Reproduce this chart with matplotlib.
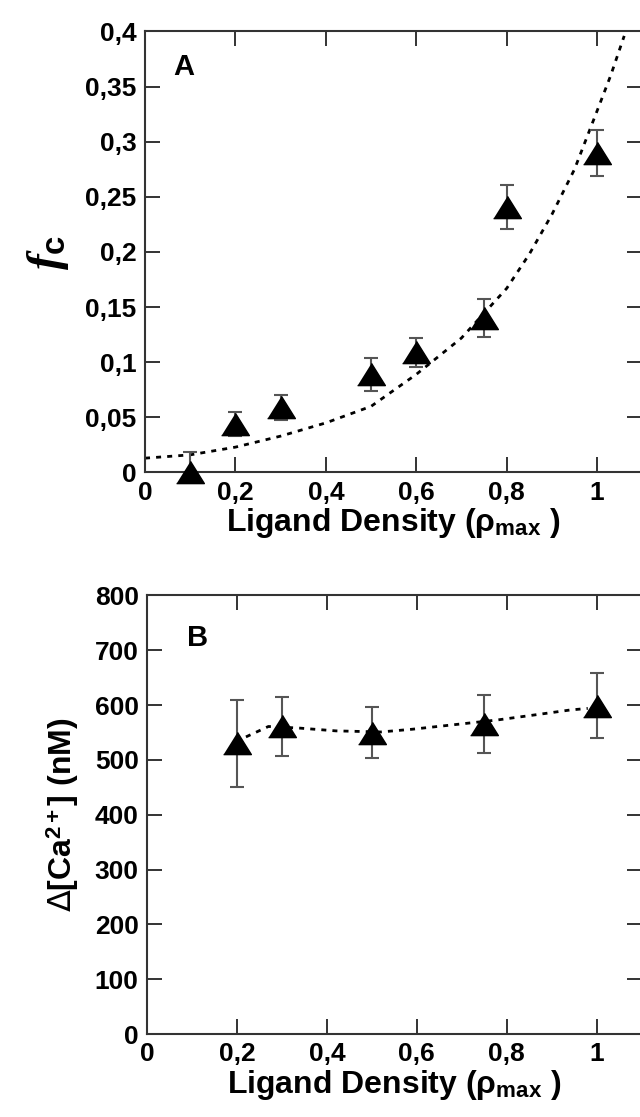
import matplotlib

matplotlib.use("Agg")
import matplotlib.pyplot as plt
from matplotlib.ticker import FuncFormatter, MultipleLocator

# panel A: fraction of cells responding vs ligand density
a_x = [0.1, 0.2, 0.3, 0.5, 0.6, 0.75, 0.8, 1.0]
a_y = [0.0, 0.044, 0.059, 0.089, 0.109, 0.140, 0.241, 0.290]
a_err = [0.019, 0.011, 0.011, 0.015, 0.013, 0.017, 0.020, 0.021]
a_fit_x = [0.0, 0.1, 0.2, 0.3, 0.4, 0.5, 0.6, 0.7, 0.8, 0.85, 0.9, 0.95, 1.0, 1.03, 1.06]
a_fit_y = [0.013, 0.016, 0.023, 0.033, 0.045, 0.060, 0.089, 0.122, 0.167, 0.198,
           0.234, 0.275, 0.328, 0.360, 0.396]

# panel B: calcium rise vs ligand density
b_x = [0.2, 0.3, 0.5, 0.75, 1.0]
b_y = [530, 561, 550, 566, 599]
b_err = [79, 53, 46, 53, 59]
b_fit_x = [0.22, 0.27, 0.34, 0.42, 0.52, 0.59, 0.68, 0.78, 0.87, 0.94, 0.98]
b_fit_y = [542, 561, 558, 553, 551, 556, 564, 573, 583, 591, 594]

plt.rcParams["font.family"] = ["Liberation Sans", "DejaVu Sans"]
plt.rcParams["font.weight"] = "bold"
plt.rcParams["axes.labelweight"] = "bold"
plt.rcParams["mathtext.fontset"] = "custom"
plt.rcParams["mathtext.rm"] = "Liberation Sans:bold"
plt.rcParams["mathtext.bf"] = "Liberation Sans:bold"
plt.rcParams["mathtext.it"] = "Liberation Serif:italic:bold"
plt.rcParams["mathtext.sf"] = "DejaVu Sans:normal"

SPINE = "#333333"
tri = [(-1, -0.8), (1, -0.8), (0, 0.8)]
comma = FuncFormatter(lambda v, _: f"{v:g}".replace(".", ","))

fig = plt.figure(figsize=(6.4, 11.17), dpi=100)
ax_a = fig.add_axes([0.2266, 0.577, 0.777, 0.3948])
ax_b = fig.add_axes([0.2297, 0.0743, 0.773, 0.3926])


def style(ax):
    ax.set_xlim(0, 1.1)
    ax.xaxis.set_major_locator(MultipleLocator(0.2))
    ax.xaxis.set_major_formatter(comma)
    ax.yaxis.set_major_formatter(comma)
    ax.tick_params(direction="in", top=True, right=True, length=11, width=1.4,
                   color=SPINE, labelsize=19, pad=6)
    for s in ax.spines.values():
        s.set_color(SPINE)
        s.set_linewidth(1.5)
    ax.set_xlabel("Ligand Density (ρ$_{\\mathrm{max}}$ )", fontsize=23, labelpad=1)


for ax, x, y, err, fx, fy in [(ax_a, a_x, a_y, a_err, a_fit_x, a_fit_y),
                              (ax_b, b_x, b_y, b_err, b_fit_x, b_fit_y)]:
    ax.plot(fx, fy, color="black", lw=2.0, linestyle=(0, (1.8, 2.2)), zorder=1)
    ax.errorbar(x, y, yerr=err, fmt="none", ecolor="#555555", elinewidth=1.5,
                capsize=4.7, capthick=1.5, zorder=2)
    ax.plot(x, y, linestyle="none", marker=tri, ms=20, color="black",
            clip_on=False, zorder=3)
    style(ax)

ax_a.set_ylim(0, 0.4)
ax_a.yaxis.set_major_locator(MultipleLocator(0.05))
ax_a.set_ylabel(r"$\mathit{f}_{\mathrm{c}}$", fontsize=34, labelpad=10)
ax_a.text(0.086, 0.368, "A", fontsize=21, ha="center", va="center")

ax_b.set_ylim(0, 800)
ax_b.yaxis.set_major_locator(MultipleLocator(100))
ax_b.set_ylabel("$\\mathsf{\\Delta}$[Ca$^{2+}$] (nM)", fontsize=23, labelpad=10)
ax_b.text(0.113, 723, "B", fontsize=21, ha="center", va="center")

fig.savefig("out.png", dpi=100)
